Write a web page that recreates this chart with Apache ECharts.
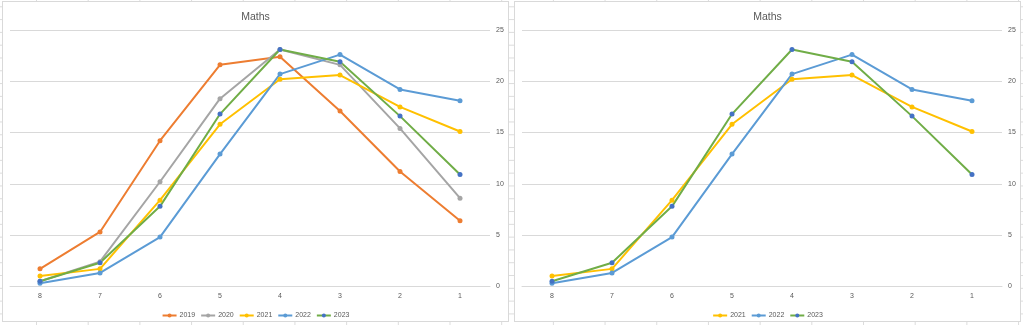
<!DOCTYPE html>
<html>
<head>
<meta charset="utf-8">
<script src="https://cdn.jsdelivr.net/npm/echarts@6/dist/echarts.min.js"></script>
<style>
html,body{margin:0;padding:0;width:1023px;height:325px;overflow:hidden;}
body{
  background-color:#fff;
  background-image:linear-gradient(to right,#dcdcdc 1px,transparent 1px),linear-gradient(to bottom,#dcdcdc 1px,transparent 1px);
  background-size:51.7px 100%,100% 12.8px;
  background-position:36px 0,0 6.3px;
  position:relative;
}
.box{position:absolute;top:1px;width:507px;height:321px;background:#fff;border:1px solid #d9d9d9;box-sizing:border-box;}
.chart{width:505px;height:319px;}
</style>
</head>
<body>
<div class="box" style="left:2px;"><div id="c1" class="chart"></div></div>
<div class="box" style="left:514px;"><div id="c2" class="chart"></div></div>
<script>
const categories = ['8','7','6','5','4','3','2','1'];
const s2019 = [1.7, 5.3, 14.2, 21.6, 22.4, 17.1, 11.2, 6.4];
const s2020 = [0.5, 2.4, 10.2, 18.3, 23.1, 21.6, 15.4, 8.6];
const s2021 = [1.0, 1.7, 8.4, 15.8, 20.2, 20.6, 17.5, 15.1];
const s2022 = [0.3, 1.3, 4.8, 12.9, 20.7, 22.6, 19.2, 18.1];
const s2023 = [0.5, 2.3, 7.8, 16.8, 23.1, 21.9, 16.6, 10.9];
const yTicks = [0, 5, 10, 15, 20, 25];
const chartTitle = 'Maths';

const FONT = '"Liberation Sans", Arial, sans-serif';
const TXT = '#595959';
const styles = {
  '2019': {line: '#ED7D31', dot: '#ED7D31'},
  '2020': {line: '#A5A5A5', dot: '#A5A5A5'},
  '2021': {line: '#FFC000', dot: '#FFC000'},
  '2022': {line: '#5B9BD5', dot: '#5B9BD5'},
  '2023': {line: '#70AD47', dot: '#4472C4'}
};

function mkSeries(name, data) {
  const st = styles[name];
  return {
    name: name, type: 'line', data: data,
    symbol: 'circle', symbolSize: 5, showSymbol: true,
    lineStyle: {width: 2, color: st.line},
    itemStyle: {color: st.dot},
    emphasis: {disabled: true},
    animation: false
  };
}

function mkOption(list) {
  return {
    animation: false,
    textStyle: {fontFamily: FONT},
    title: {
      text: chartTitle, left: 'center', top: 5,
      textStyle: {fontFamily: FONT, fontSize: 10.5, fontWeight: 'normal', color: TXT}
    },
    legend: {
      data: list.map(s => s[0]),
      left: 'center', top: 305,
      itemWidth: 14, itemHeight: 5, itemGap: 5,
      textStyle: {fontFamily: FONT, fontSize: 7, color: TXT, padding: [0, 0, 0, -2]},
      selectedMode: false
    },
    grid: {left: 7, right: 18, top: 28, bottom: 34.7, containLabel: false},
    xAxis: {
      type: 'category', data: categories, boundaryGap: true,
      axisLine: {show: true, lineStyle: {color: '#d9d9d9', width: 1}},
      axisTick: {show: false},
      axisLabel: {fontFamily: FONT, fontSize: 7, color: TXT, margin: 6}
    },
    yAxis: {
      type: 'value', position: 'right', min: yTicks[0], max: yTicks[yTicks.length - 1], interval: 5,
      axisLine: {show: false}, axisTick: {show: false},
      splitLine: {lineStyle: {color: '#d9d9d9', width: 1}},
      axisLabel: {fontFamily: FONT, fontSize: 7, color: TXT, margin: 6}
    },
    series: list.map(s => mkSeries(s[0], s[1]))
  };
}

const c1 = echarts.init(document.getElementById('c1'), null, {renderer: 'canvas'});
c1.setOption(mkOption([['2019', s2019], ['2020', s2020], ['2021', s2021], ['2022', s2022], ['2023', s2023]]));
const c2 = echarts.init(document.getElementById('c2'), null, {renderer: 'canvas'});
c2.setOption(mkOption([['2021', s2021], ['2022', s2022], ['2023', s2023]]));
</script>
</body>
</html>
